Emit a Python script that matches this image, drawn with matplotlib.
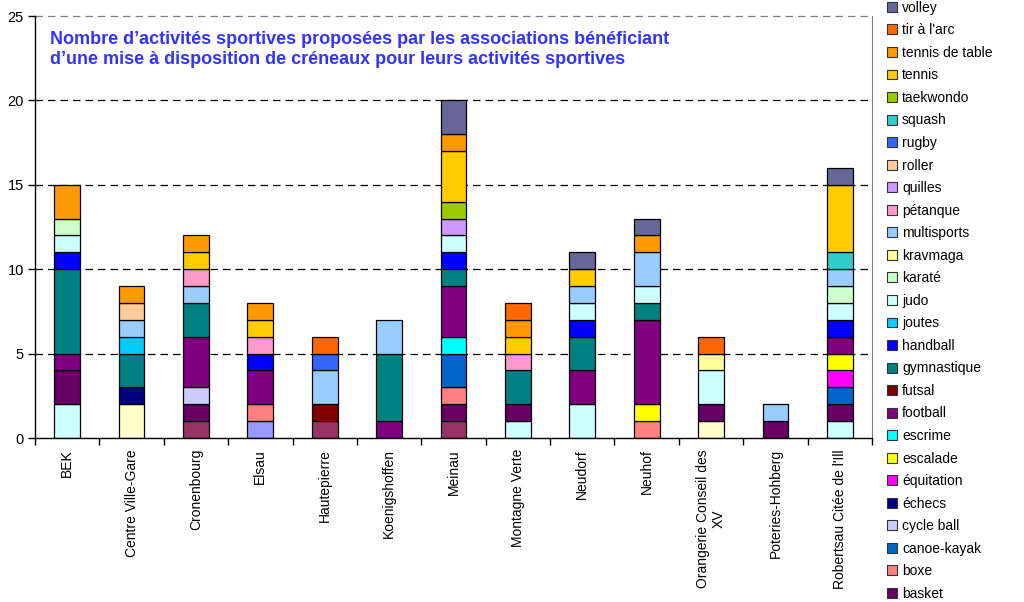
import matplotlib
matplotlib.use("Agg")
import matplotlib.pyplot as plt
from matplotlib.patches import Patch
from matplotlib.lines import Line2D
import numpy as np

plt.rcParams['font.family'] = ['Liberation Sans', 'DejaVu Sans']

districts = ["BEK", "Centre Ville-Gare", "Cronenbourg", "Elsau", "Hautepierre",
             "Koenigshoffen", "Meinau", "Montagne Verte", "Neudorf", "Neuhof",
             "Orangerie Conseil des\nXV", "Poteries-Hohberg", "Robertsau Citée de l'Ill"]

# series values per district (stacking order bottom -> top)
aikido          = [0, 0, 0, 1, 0, 0, 0, 0, 0, 0, 0, 0, 0]
athletisme      = [0, 0, 1, 0, 1, 0, 1, 0, 0, 0, 0, 0, 0]
aviron          = [0, 2, 0, 0, 0, 0, 0, 0, 0, 0, 1, 0, 0]
badminton       = [2, 0, 0, 0, 0, 0, 0, 1, 2, 0, 0, 0, 1]
basket          = [2, 0, 1, 0, 0, 0, 1, 1, 0, 0, 1, 1, 1]
boxe            = [0, 0, 0, 1, 0, 0, 1, 0, 0, 1, 0, 0, 0]
canoe_kayak     = [0, 0, 0, 0, 0, 0, 2, 0, 0, 0, 0, 0, 1]
cycle_ball      = [0, 0, 1, 0, 0, 0, 0, 0, 0, 0, 0, 0, 0]
echecs          = [0, 1, 0, 0, 0, 0, 0, 0, 0, 0, 0, 0, 0]
equitation      = [0, 0, 0, 0, 0, 0, 0, 0, 0, 0, 0, 0, 1]
escalade        = [0, 0, 0, 0, 0, 0, 0, 0, 0, 1, 0, 0, 1]
escrime         = [0, 0, 0, 0, 0, 0, 1, 0, 0, 0, 0, 0, 0]
football        = [1, 0, 3, 2, 0, 1, 3, 0, 2, 5, 0, 0, 1]
futsal          = [0, 0, 0, 0, 1, 0, 0, 0, 0, 0, 0, 0, 0]
gymnastique     = [5, 2, 2, 0, 0, 4, 1, 2, 2, 1, 0, 0, 0]
handball        = [1, 0, 0, 1, 0, 0, 1, 0, 1, 0, 0, 0, 1]
joutes          = [0, 1, 0, 0, 0, 0, 0, 0, 0, 0, 0, 0, 0]
judo            = [1, 0, 0, 0, 0, 0, 1, 0, 1, 1, 2, 0, 1]
karate          = [1, 0, 0, 0, 0, 0, 0, 0, 0, 0, 0, 0, 1]
kravmaga        = [0, 0, 0, 0, 0, 0, 0, 0, 0, 0, 1, 0, 0]
multisports     = [0, 1, 1, 0, 2, 2, 0, 0, 1, 2, 0, 1, 1]
petanque        = [0, 0, 1, 1, 0, 0, 0, 1, 0, 0, 0, 0, 0]
quilles         = [0, 0, 0, 0, 0, 0, 1, 0, 0, 0, 0, 0, 0]
roller          = [0, 1, 0, 0, 0, 0, 0, 0, 0, 0, 0, 0, 0]
rugby           = [0, 0, 0, 0, 1, 0, 0, 0, 0, 0, 0, 0, 0]
squash          = [0, 0, 0, 0, 0, 0, 0, 0, 0, 0, 0, 0, 1]
taekwondo       = [0, 0, 0, 0, 0, 0, 1, 0, 0, 0, 0, 0, 0]
tennis          = [0, 0, 1, 1, 0, 0, 3, 1, 1, 0, 0, 0, 4]
tennis_de_table = [2, 1, 1, 1, 0, 0, 1, 1, 0, 1, 0, 0, 0]
tir_a_l_arc     = [0, 0, 0, 0, 1, 0, 0, 1, 0, 0, 1, 0, 0]
volley          = [0, 0, 0, 0, 0, 0, 2, 0, 1, 1, 0, 0, 1]

sport_names = ["aïkido", "athlétisme", "aviron", "badminton", "basket", "boxe",
               "canoe-kayak", "cycle ball", "échecs", "équitation", "escalade",
               "escrime", "football", "futsal", "gymnastique", "handball", "joutes",
               "judo", "karaté", "kravmaga", "multisports", "pétanque", "quilles",
               "roller", "rugby", "squash", "taekwondo", "tennis", "tennis de table",
               "tir à l'arc", "volley"]

sport_colors = ["#9999FF", "#993366", "#FFFFCC", "#CCFFFF", "#660066", "#FF8080",
                "#0066CC", "#CCCCFF", "#000080", "#FF00FF", "#FFFF00", "#00FFFF",
                "#800080", "#800000", "#008080", "#0000FF", "#00CCFF", "#CCFFFF",
                "#CCFFCC", "#FFFF99", "#99CCFF", "#FF99CC", "#CC99FF", "#FFCC99",
                "#3366FF", "#33CCCC", "#99CC00", "#FFCC00", "#FF9900", "#FF6600",
                "#666699"]

series = [aikido, athletisme, aviron, badminton, basket, boxe, canoe_kayak,
          cycle_ball, echecs, equitation, escalade, escrime, football, futsal,
          gymnastique, handball, joutes, judo, karate, kravmaga, multisports,
          petanque, quilles, roller, rugby, squash, taekwondo, tennis,
          tennis_de_table, tir_a_l_arc, volley]

# the legend in the reference is cut by the image edge: only these are visible
n_hidden_in_legend = 4

W, H = 1024, 602
fig = plt.figure(figsize=(W / 100, H / 100), dpi=100)
AX_L, AX_R, AX_T, AX_B = 35, 872, 16, 438
ax = fig.add_axes([AX_L / W, 1 - AX_B / H, (AX_R - AX_L) / W, (AX_B - AX_T) / H])

x = np.arange(len(districts))
bottom = np.zeros(len(districts))
for vals, name, col in zip(series, sport_names, sport_colors):
    v = np.array(vals, dtype=float)
    lw = np.where(v > 0, 0.9, 0.0)
    ax.bar(x, v, width=0.4, bottom=bottom, color=col, edgecolor="black",
           linewidth=lw, label=name, zorder=3)
    bottom += v

ax.set_xlim(-0.5, len(districts) - 0.5)
ax.set_ylim(0, 25)
ax.set_yticks([0, 5, 10, 15, 20, 25])
for yv in [5, 10, 15, 20]:
    ax.axhline(yv, color="black", linestyle=(0, (6, 4)), linewidth=0.9, zorder=1)
ax.axhline(25, color="#808080", linestyle=(0, (6, 4)), linewidth=0.9, zorder=1, clip_on=False)

ax.spines['top'].set_visible(False)
ax.spines['right'].set_color("#808080")
ax.spines['left'].set_linewidth(1.0)
ax.spines['bottom'].set_linewidth(1.0)
ax.spines['bottom'].set_zorder(4)

ax.set_xticks(np.arange(len(districts) + 1) - 0.5, minor=False)
ax.set_xticklabels([])
ax.set_xticks(x, minor=True)
ax.set_xticklabels(districts, minor=True, rotation=90, fontsize=10,
                   va="top", ha="center", multialignment="center")
ax.tick_params(axis="x", which="minor", length=0, pad=8)
ax.tick_params(axis="x", which="major", length=5, direction="out", width=1)
ax.tick_params(axis="y", length=5, direction="out", width=1, labelsize=10.5, pad=3)

ax_w = AX_R - AX_L
ax_h = AX_B - AX_T
ax.text((50 - AX_L) / ax_w, (AX_B - 31) / ax_h,
        "Nombre d’activités sportives proposées par les associations bénéficiant\n"
        "d’une mise à disposition de créneaux pour leurs activités sportives",
        transform=ax.transAxes, ha="left", va="top", fontsize=13,
        fontweight="bold", color="#3333FF", linespacing=1.22, zorder=5)

handles = [Patch(facecolor=c, edgecolor="#333333", linewidth=0.8) for c in sport_colors]
vis_handles = handles[n_hidden_in_legend:][::-1]
vis_names = sport_names[n_hidden_in_legend:][::-1]
leg = fig.legend(vis_handles, vis_names, loc="upper left",
                 bbox_to_anchor=(881 / W, 1.008), fontsize=10, frameon=True,
                 fancybox=False, edgecolor="none", facecolor="white", framealpha=1,
                 handlelength=0.72, handleheight=0.72, handletextpad=0.4,
                 labelspacing=0.615, borderpad=0.4, borderaxespad=0)
# left border of the (clipped) legend box
fig.add_artist(Line2D([882 / W, 882 / W], [0, 1], transform=fig.transFigure,
                      color="black", linewidth=1.0))

fig.savefig("out.png", dpi=100)
